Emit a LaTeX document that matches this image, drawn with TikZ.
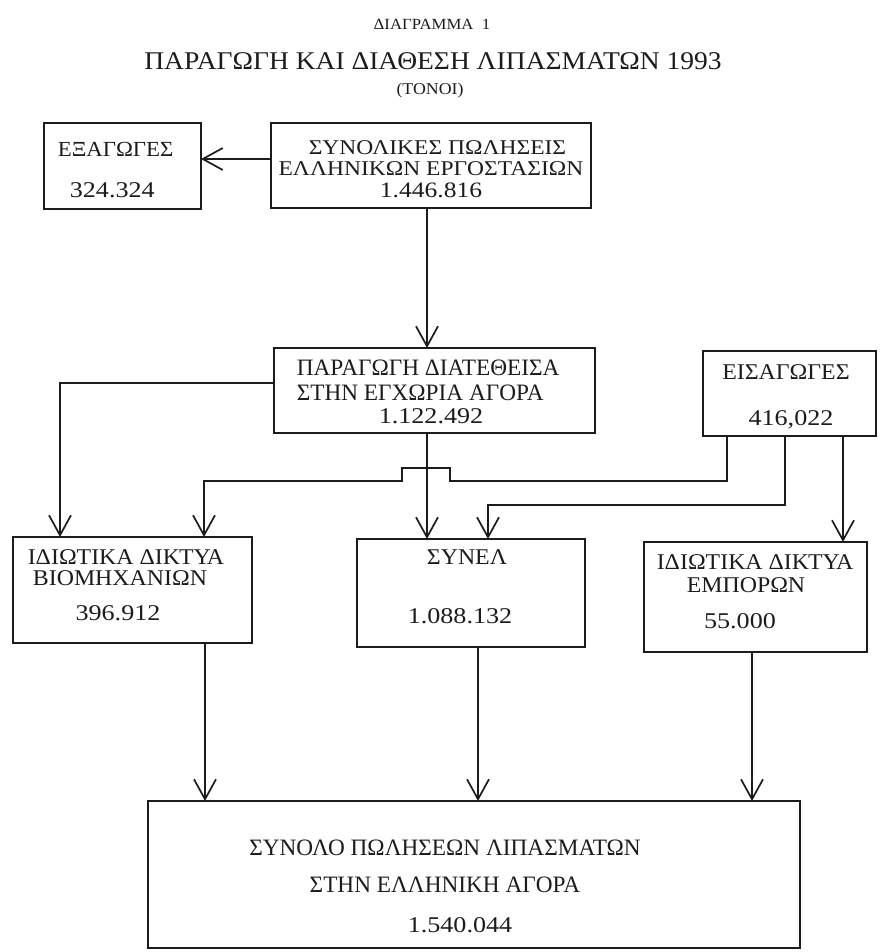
\documentclass[tikz,border=0pt]{standalone}
\usepackage{fontspec}
\setmainfont{Liberation Serif}
\newfontfamily\bxf[FakeStretch=1.06]{Liberation Serif}
\newfontfamily\bwf[FakeStretch=1.12]{Liberation Serif}
\newfontfamily\nrf[FakeStretch=0.99]{Liberation Serif}
\newfontfamily\nmf[FakeStretch=1.16]{Liberation Serif}
\newfontfamily\hdf[FakeStretch=1.08]{Liberation Serif}
\usetikzlibrary{arrows.meta,calc}
\definecolor{ink}{HTML}{1C1C1C}
\begin{document}
\begin{tikzpicture}[x=1pt,y=-1pt,line width=1.7pt,draw=ink,
  box/.style={draw=ink,rectangle,inner sep=0pt,outer sep=0pt},
  arr/.style={-{Straight Barb[length=20pt,width=22pt]}},
  t/.style={inner sep=0pt,anchor=base,text=ink,font=\bxf\fontsize{22.5}{22.5}\selectfont},
  tn/.style={t,font=\nrf\fontsize{23.5}{23.5}\selectfont},
  num/.style={t,font=\nmf\fontsize{22.5}{22.5}\selectfont},
  tl/.style={t,anchor=base west},
  ttl/.style={inner sep=0pt,anchor=base,text=ink},
]
\useasboundingbox[fill=white] (0,0) rectangle (879,952);

% title
\node[ttl,font=\hdf\fontsize{15.5}{15.5}\selectfont] (h1) at (432,30) {ΔΙΑΓΡΑΜΜΑ~~1};
\node[ttl,font=\hdf\fontsize{25.5}{25.5}\selectfont] (h2) at (433,70) {ΠΑΡΑΓΩΓΗ ΚΑΙ ΔΙΑΘΕΣΗ ΛΙΠΑΣΜΑΤΩΝ 1993};
\node[ttl,font=\hdf\fontsize{16.5}{16.5}\selectfont] (h3) at (430,95) {(ΤΟΝΟΙ)};

% boxes
\node[box,minimum width=157,minimum height=86] (exp) at (122.5,166) {};
\node[box,minimum width=320,minimum height=85] (tot) at (431,165.5) {};
\node[box,minimum width=321,minimum height=85] (dom) at (434.5,390.5) {};
\node[box,minimum width=173,minimum height=85] (imp) at (789.5,393.5) {};
\node[box,minimum width=239,minimum height=106] (ind) at (132.5,590) {};
\node[box,minimum width=228,minimum height=108] (syn) at (471,593) {};
\node[box,minimum width=223,minimum height=110] (emp) at (755.5,597) {};
\node[box,minimum width=652,minimum height=147] (all) at (474,874.5) {};

% texts
\node[tl,font=\bxf\fontsize{21.5}{21.5}\selectfont] (exp1) at (57,157) {ΕΞΑΓΩΓΕΣ};
\node[num,anchor=base west] (exp2) at (69,197) {324.324};

\node[t,anchor=center,align=center,font=\bwf\fontsize{21}{21.5}\selectfont] (totT) at (431,169)
  {\hspace*{13pt}ΣΥΝΟΛΙΚΕΣ ΠΩΛΗΣΕΙΣ\\ΕΛΛΗΝΙΚΩΝ ΕΡΓΟΣΤΑΣΙΩΝ\\{\nmf\fontsize{22}{21.5}\selectfont 1.446.816}};

\node[tn,anchor=base west] (dom1) at (296,375) {ΠΑΡΑΓΩΓΗ ΔΙΑΤΕΘΕΙΣΑ};
\node[tn,anchor=base west] (dom2) at (296,400) {ΣΤΗΝ ΕΓΧΩΡΙΑ ΑΓΟΡΑ};
\node[num] (dom3) at (431,423) {1.122.492};

\node[t] (imp1) at (786,379) {ΕΙΣΑΓΩΓΕΣ};
\node[num] (imp2) at (791,425) {416,022};

\node[t] (ind1) at (126,564) {ΙΔΙΩΤΙΚΑ ΔΙΚΤΥΑ};
\node[t] (ind2) at (120,585) {ΒΙΟΜΗΧΑΝΙΩΝ};
\node[num] (ind3) at (118,620) {396.912};

\node[t] (syn1) at (467,564) {ΣΥΝΕΛ};
\node[num] (syn2) at (460,623) {1.088.132};

\node[t] (emp1) at (755,569) {ΙΔΙΩΤΙΚΑ ΔΙΚΤΥΑ};
\node[t] (emp2) at (746,592) {ΕΜΠΟΡΩΝ};
\node[num] (emp3) at (740,628) {55.000};

\node[tn] (all1) at (445,855) {ΣΥΝΟΛΟ ΠΩΛΗΣΕΩΝ ΛΙΠΑΣΜΑΤΩΝ};
\node[tn] (all2) at (445,892) {ΣΤΗΝ ΕΛΛΗΝΙΚΗ ΑΓΟΡΑ};
\node[num] (all3) at (460,932) {1.540.044};

% hop coordinates
\coordinate (hopR) at (450,481);
\coordinate (hopRt) at (450,468);
\coordinate (hopLt) at (402,468);
\coordinate (hopL) at (402,481);

% connectors
\draw[arr] ([yshift=6.5pt]tot.west) -- ([yshift=6.5pt]tot.west -| exp.east);
\draw[arr] ([xshift=-4pt]tot.south) -- ([xshift=-4pt]tot.south |- dom.north);
\draw[arr] ([yshift=7.5pt]dom.west) -| ([xshift=-72.5pt]ind.north);
\draw[arr] ([xshift=-7.5pt]dom.south) -- ([xshift=-7.5pt]dom.south |- syn.north);
\draw[arr] ([xshift=-62.5pt]imp.south) |- (hopR) -- (hopRt) -- (hopLt) -- (hopL) -| ([xshift=71.5pt]ind.north);
\draw[arr] ([xshift=-4.5pt]imp.south) |- ([xshift=17pt,yshift=34pt]syn.north) -- ([xshift=17pt]syn.north);
\draw[arr] ([xshift=53.5pt]imp.south) -- ([xshift=53.5pt]imp.south |- emp.north);

\draw[arr] ([xshift=72.5pt]ind.south) -- ([xshift=72.5pt]ind.south |- all.north);
\draw[arr] ([xshift=7pt]syn.south) -- ([xshift=7pt]syn.south |- all.north);
\draw[arr] ([xshift=-3.5pt]emp.south) -- ([xshift=-3.5pt]emp.south |- all.north);
\end{tikzpicture}
\end{document}
